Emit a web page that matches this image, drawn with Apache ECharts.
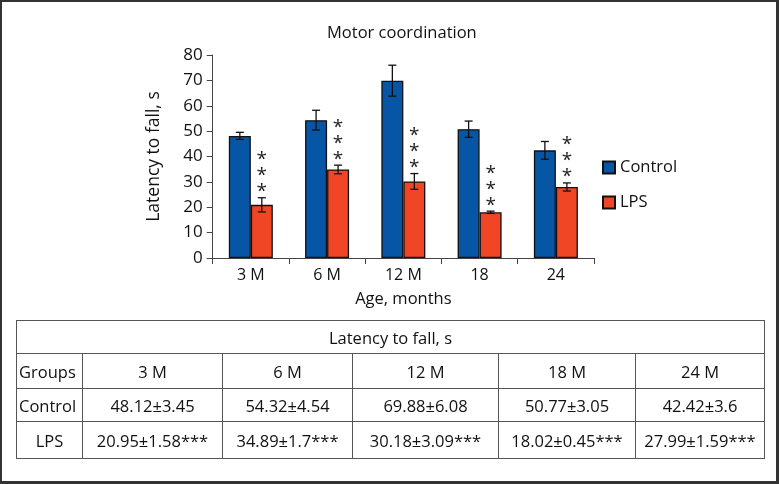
<!DOCTYPE html>
<html>
<head>
<meta charset="utf-8">
<script src="https://cdn.jsdelivr.net/npm/echarts@6/dist/echarts.min.js"></script>
<style>
  html, body { margin: 0; padding: 0; background: #fff; }
  #frame { position: relative; width: 779px; height: 484px; box-sizing: border-box; border: 2px solid #333; border-right-width: 3px; border-bottom-width: 3px; overflow: hidden; }
  #chart { position: absolute; left: -2px; top: -2px; width: 779px; height: 484px; }
  #tbl { position: absolute; left: 14px; top: 318px; border-collapse: collapse; table-layout: fixed; font-family: "Open Sans", sans-serif; font-size: 16.5px; color: #111; }
  #tbl td { border: 1px solid #555; text-align: center; padding: 0; white-space: nowrap; overflow: visible; }
</style>
</head>
<body>
<div id="frame">
  <div id="chart"></div>
  <table id="tbl"></table>
</div>
<script>
// ---- data ----
const categories = ['3 M', '6 M', '12 M', '18', '24'];
const controlMean = [48.12, 54.32, 69.88, 50.77, 42.42];
const controlErr  = [1.4, 3.9, 6.1, 3.2, 3.5];
const lpsMean = [20.95, 34.89, 30.18, 18.02, 27.99];
const lpsErr  = [2.8, 1.7, 3.1, 0.45, 1.6];
const yTicks = { min: 0, max: 80, interval: 10 };

const tableTitle = 'Latency to fall, s';
const tableHeader = ['Groups', '3 M', '6 M', '12 M', '18 M', '24 M'];
const tableControl = ['Control', '48.12±3.45', '54.32±4.54', '69.88±6.08', '50.77±3.05', '42.42±3.6'];
const tableLps = ['LPS', '20.95±1.58***', '34.89±1.7***', '30.18±3.09***', '18.02±0.45***', '27.99±1.59***'];

// ---- table ----
const colW = [66, 140, 130, 146, 137, 129];
const rowH = [33, 35, 33, 37];
const tbl = document.getElementById('tbl');
let cg = '<colgroup>' + colW.map(w => '<col style="width:' + w + 'px">').join('') + '</colgroup>';
let html = cg + '<tr style="height:' + rowH[0] + 'px"><td colspan="6">' + tableTitle + '</td></tr>';
[tableHeader, tableControl, tableLps].forEach((row, ri) => {
  html += '<tr style="height:' + rowH[ri + 1] + 'px">' + row.map((c, ci) => {
    const st = (ci === 0 && ri < 2) ? ' style="text-align:left;padding-left:2px"' : '';
    return '<td' + st + '>' + c + '</td>';
  }).join('') + '</tr>';
});
tbl.innerHTML = html;

// ---- chart ----
const FONT = '"Open Sans", sans-serif';
const BAR_W = 22;
const chart = echarts.init(document.getElementById('chart'));

function errSeries(name, means, errs, offset, stars) {
  return {
    type: 'custom',
    name: name + ' err',
    silent: true,
    z: 5,
    data: means.map((m, i) => [i, m, errs[i]]),
    renderItem: function (params, api) {
      const i = api.value(0), m = api.value(1), e = api.value(2);
      const x = api.coord([i, 0])[0] + offset;
      const yt = api.coord([i, m + e])[1];
      const yb = api.coord([i, m - e])[1];
      const cap = 4;
      const st = { stroke: '#111', lineWidth: 1.3 };
      const children = [
        { type: 'line', shape: { x1: x, y1: yt, x2: x, y2: yb }, style: st },
        { type: 'line', shape: { x1: x - cap, y1: yt, x2: x + cap, y2: yt }, style: st },
        { type: 'line', shape: { x1: x - cap, y1: yb, x2: x + cap, y2: yb }, style: st }
      ];
      if (stars) {
        children.push({
          type: 'text',
          style: { text: '*\n*\n*', x: x, y: yt + 2, align: 'center', verticalAlign: 'bottom',
                   fontSize: 19, lineHeight: 16, fontFamily: FONT, fill: '#222' }
        });
      }
      return { type: 'group', children: children };
    }
  };
}

chart.setOption({
  animation: false,
  textStyle: { fontFamily: FONT },
  title: {
    text: 'Motor coordination', left: 327, top: 25, padding: 0,
    textStyle: { fontSize: 16.5, fontWeight: 'normal', color: '#111', fontFamily: FONT }
  },
  legend: {
    orient: 'vertical', left: 602, top: 159, itemWidth: 12, itemHeight: 12, itemGap: 18,
    padding: 0, icon: 'rect',
    data: ['Control', 'LPS'],
    textStyle: { fontSize: 16.5, color: '#111', fontFamily: FONT }
  },
  grid: { left: 212.7, right: 185, top: 55, bottom: 226 },
  xAxis: {
    type: 'category', data: categories, boundaryGap: true,
    name: 'Age, months', nameLocation: 'middle', nameGap: 33,
    nameTextStyle: { fontSize: 16.5, color: '#111', fontFamily: FONT },
    axisLine: { lineStyle: { color: '#444', width: 1 } },
    axisTick: { show: true, interval: 0, length: 6, inside: false, lineStyle: { color: '#444' } },
    axisLabel: { fontSize: 16, color: '#111', margin: 9, interval: 0, fontFamily: FONT }
  },
  yAxis: {
    type: 'value', min: yTicks.min, max: yTicks.max, interval: yTicks.interval,
    name: 'Latency to fall, s', nameLocation: 'middle', nameGap: 50,
    nameTextStyle: { fontSize: 17.5, color: '#111', fontFamily: FONT },
    axisLine: { show: true, lineStyle: { color: '#444', width: 1 } },
    axisTick: { show: true, length: 6, lineStyle: { color: '#444' } },
    splitLine: { show: false },
    axisLabel: { fontSize: 17, color: '#111', margin: 10, fontFamily: FONT }
  },
  series: [
    { type: 'bar', name: 'Control', data: controlMean, barWidth: BAR_W, barGap: '0%',
      itemStyle: { color: '#0756a5', borderColor: '#111', borderWidth: 1.3 } },
    { type: 'bar', name: 'LPS', data: lpsMean, barWidth: BAR_W, barGap: '0%',
      itemStyle: { color: '#f04625', borderColor: '#111', borderWidth: 1.3 } },
    errSeries('Control', controlMean, controlErr, -BAR_W / 2, false),
    errSeries('LPS', lpsMean, lpsErr, BAR_W / 2, true)
  ]
});
</script>
</body>
</html>
